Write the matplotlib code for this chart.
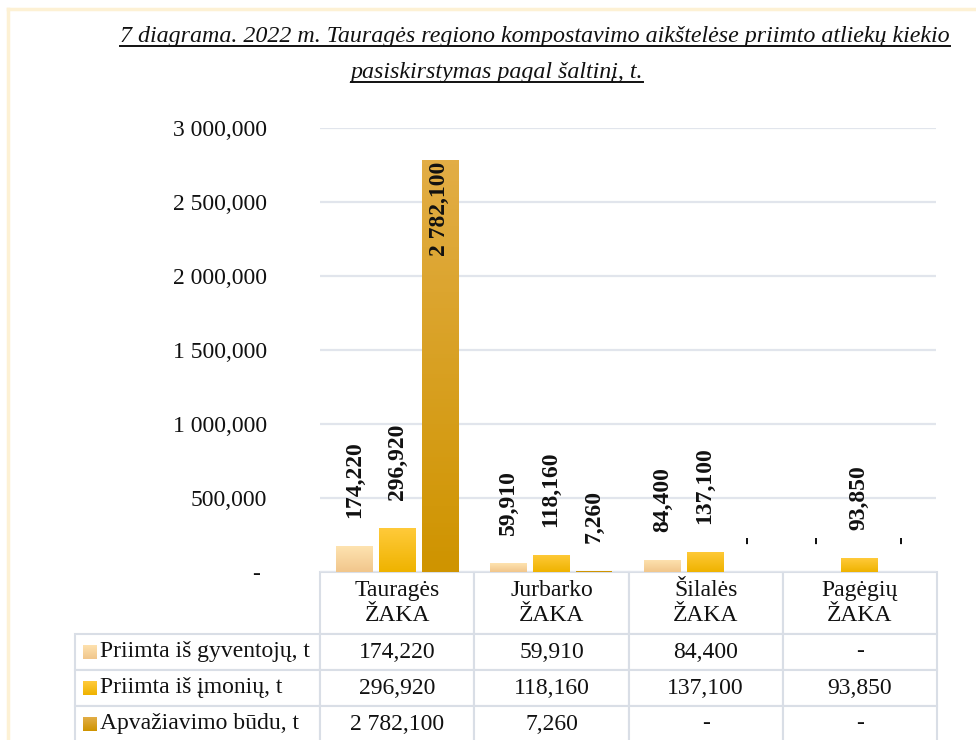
import matplotlib
matplotlib.use("Agg")
import matplotlib.pyplot as plt
import numpy as np
from matplotlib.colors import LinearSegmentedColormap
from matplotlib.lines import Line2D
from matplotlib.table import Table

plt.rcParams['font.family'] = ['Liberation Serif', 'DejaVu Serif']

categories = ["Tauragės\nŽAKA", "Jurbarko\nŽAKA", "Šilalės\nŽAKA", "Pagėgių\nŽAKA"]
series_names = ["Priimta iš gyventojų, t", "Priimta iš įmonių, t", "Apvažiavimo būdu, t"]
gyventoju = [174.22, 59.91, 84.40, None]
imoniu = [296.92, 118.16, 137.10, 93.85]
apvaziavimo = [2782.10, 7.26, None, None]
yticks = [0, 500, 1000, 1500, 2000, 2500, 3000]
title_lines = ["7 diagrama. 2022 m. Tauragės regiono kompostavimo aikštelėse priimto atliekų kiekio",
               "pasiskirstymas pagal šaltinį, t."]

# gradient colours (top, bottom) per series
grads = [("#fee3b0", "#f1c68c"), ("#ffca3a", "#efb300"), ("#e2ad45", "#cf9400")]
edge = "#d9dee6"


def fmt(v):
    if v is None or v == 0:
        return "-"
    return f"{v:,.3f}".replace(",", " ").replace(".", ",")


W, H = 976, 740
fig = plt.figure(figsize=(W / 100, H / 100), dpi=100)
fig.patch.set_facecolor("white")

# cream page border
fig.add_artist(Line2D([8 / W, 8 / W], [0, 1 - 9 / H], color="#fdf1d4", lw=2.5))
fig.add_artist(Line2D([8 / W, 1], [1 - 9 / H, 1 - 9 / H], color="#fdf1d4", lw=2.5))

# plot area in pixels: x 320..936, y 128..572
ax = fig.add_axes([320 / W, (H - 572) / H, 616 / W, 444 / H])
x = np.arange(len(categories))
width = 0.234
offsets = [-0.277, 0, 0.277]

for s, data in enumerate([gyventoju, imoniu, apvaziavimo]):
    vals = [0 if v is None else v for v in data]
    bars = ax.bar(x + offsets[s], vals, width, color=grads[s][1], edgecolor="none", zorder=2)
    cmap = LinearSegmentedColormap.from_list("g%d" % s, [grads[s][1], grads[s][0]])
    for b, v, raw in zip(bars, vals, data):
        if v > 50:
            im = ax.imshow(np.linspace(0, 1, 100).reshape(-1, 1), cmap=cmap, origin="lower",
                           extent=[b.get_x(), b.get_x() + b.get_width(), 0, v],
                           aspect="auto", zorder=2)
            im.set_clip_path(b)
        cx = b.get_x() + b.get_width() / 2
        if v > 2500:
            ax.annotate(fmt(raw), (cx, v), xytext=(0, -1), textcoords="offset points",
                        rotation=90, ha="center", va="top", fontsize=17,
                        fontweight="bold", color="#111111", zorder=3)
        else:
            ax.annotate(fmt(raw), (cx, v), xytext=(0, 20), textcoords="offset points",
                        rotation=90, ha="center", va="bottom", fontsize=17,
                        fontweight="bold", color="#111111", zorder=3, annotation_clip=False)

ax.set_xlim(-0.5, len(categories) - 0.5)
ax.set_ylim(0, 3000)
ax.set_yticks(yticks)
ax.set_yticklabels([fmt(v) + (" " if v == 0 else "") for v in yticks], fontsize=17, color="#111111")
ax.tick_params(axis="y", length=0, pad=38)
ax.set_xticks([])
ax.grid(axis="y", color="#e1e5ec", lw=1.6, zorder=0)
ax.set_axisbelow(True)
for sp in ax.spines.values():
    sp.set_visible(False)

# data table under the plot: first column holds the series names
tbl = Table(ax, bbox=[(75 - 320) / 616, -170 / 444, 862 / 616, 170 / 444])
tbl.auto_set_font_size(False)
hdr = tbl.add_cell(0, 0, width=245, height=62, text="")
hdr.visible_edges = ""
for c, cat in enumerate(categories):
    tbl.add_cell(0, c + 1, width=154, height=62, text=cat, loc="center")
for r, (name, row) in enumerate(zip(series_names, [gyventoju, imoniu, apvaziavimo])):
    tbl.add_cell(r + 1, 0, width=245, height=36, text=name, loc="left")
    for c, v in enumerate(row):
        tbl.add_cell(r + 1, c + 1, width=154, height=36, text=fmt(v), loc="center")
tbl.set_fontsize(17)
for cell in tbl.get_celld().values():
    cell.set_edgecolor(edge)
    cell.set_linewidth(1.5)
    cell.get_text().set_color("#111111")
ax.add_table(tbl)

# legend swatches in the row name cells
for s in range(3):
    yc = 634 + 36 * s + 18
    sw = ax.inset_axes([83 / W, (H - yc - 7) / H, 14 / W, 14 / H], transform=fig.transFigure)
    cmap = LinearSegmentedColormap.from_list("s%d" % s, [grads[s][1], grads[s][0]])
    sw.imshow(np.linspace(0, 1, 20).reshape(-1, 1), cmap=cmap, origin="lower", aspect="auto")
    sw.axis("off")

# title with underline
renderer = fig.canvas.get_renderer()
for line, xc, yb in zip(title_lines, [535, 497], [42, 78]):
    t = fig.text(xc / W, 1 - yb / H, line, ha="center", va="baseline",
                 fontsize=17.3, style="italic", color="#111111")
    bb = t.get_window_extent(renderer)
    fig.add_artist(Line2D([bb.x0 / W, bb.x1 / W], [1 - (yb + 4) / H] * 2,
                          color="#111111", lw=1.4))

fig.savefig("out.png", dpi=100)
